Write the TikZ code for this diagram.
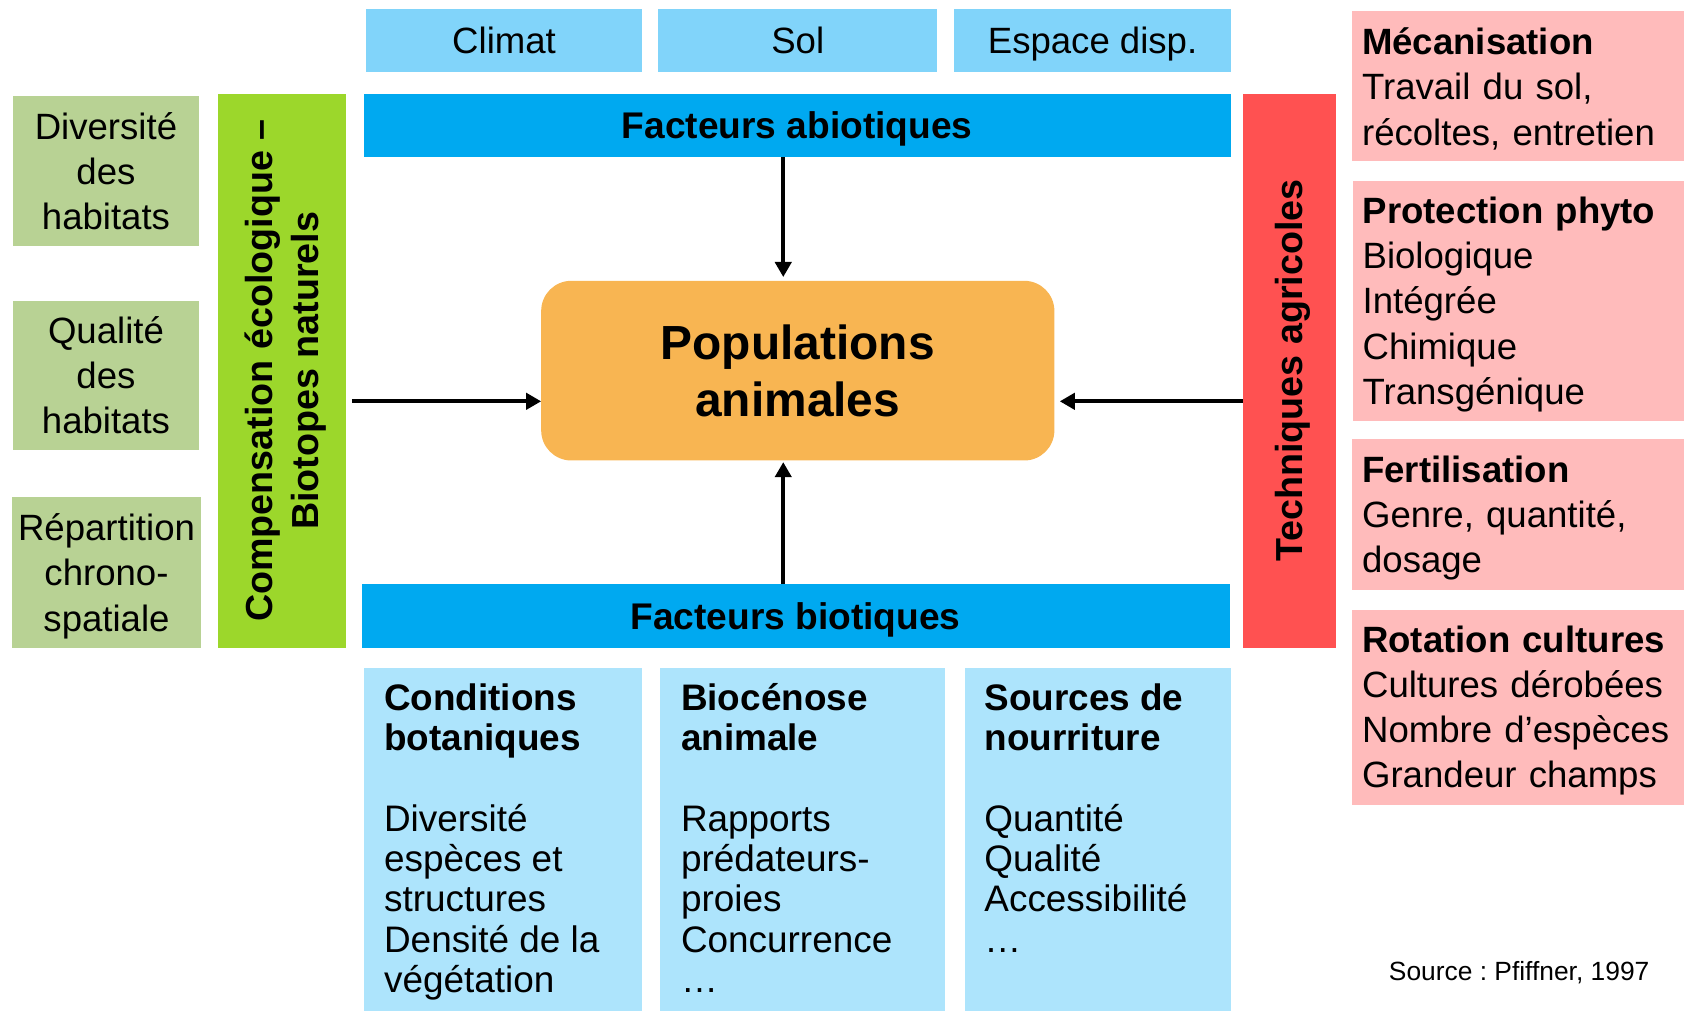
\documentclass[tikz,border=0pt]{standalone}
\usepackage{fontspec}
\setmainfont{Liberation Sans}
\usetikzlibrary{arrows.meta,calc}
\definecolor{topblue}{HTML}{81D4FA}
\definecolor{barblue}{HTML}{00A9F0}
\definecolor{lowblue}{HTML}{ADE4FC}
\definecolor{habgreen}{HTML}{B8D294}
\definecolor{limebar}{HTML}{9CD72B}
\definecolor{popor}{HTML}{F8B552}
\definecolor{techred}{HTML}{FF5151}
\definecolor{techpink}{HTML}{FFBBBB}
\frenchspacing
\begin{document}
\begin{tikzpicture}[x=1pt,y=-1pt,
  base/.style={inner sep=0pt, outer sep=0pt, font=\fontsize{34}{42}\selectfont},
  topbox/.style={base, fill=topblue, minimum height=59pt, text depth=0pt},
  barbox/.style={base, fill=barblue, minimum height=59pt, text depth=0pt, font=\fontsize{34.5}{42}\selectfont\bfseries},
  habbox/.style={base, fill=habgreen, align=center},
  vbartext/.style={base, rotate=90, align=center, font=\fontsize{35}{42}\selectfont\bfseries},
  pinkbox/.style={base, fill=techpink},
  pinktext/.style={base, inner xsep=9pt, text width=290pt, align=left},
  lowbox/.style={base, fill=lowblue},
  lowtext/.style={base, anchor=base west, font=\fontsize{34.3}{37.5}\selectfont},
  arr/.style={line width=3.8pt, -{Triangle[length=14pt,width=15pt]}}
]
\useasboundingbox (0,0) rectangle (1568,940);

% top abiotic factors
\node[topbox, minimum width=257pt] (climat) at (468.5,37.5) {Climat};
\node[topbox, minimum width=259pt] (sol) at (741.5,37.5) {Sol};
\node[topbox, minimum width=257pt] (espace) at (1015.5,37.5) {Espace disp.};

\node[barbox, minimum width=806pt] (abio) at (741,116.5) {Facteurs abiotiques};
\node[barbox, minimum width=807pt] (bio) at (739.5,572.5) {Facteurs biotiques};

% habitat boxes
\node[habbox, minimum width=173pt, minimum height=140pt] (hab1) at (98.5,159) {Diversité\\des\\habitats};
\node[habbox, minimum width=173pt, minimum height=138pt] (hab2) at (98.5,349) {Qualité\\des\\habitats};
\node[habbox, minimum width=176pt, minimum height=140pt] (hab3) at (99,532) {};
\node[base, align=center] (hab3t) at ($(hab3.center)+(0,3.5)$) {Répartition\\chrono-\\spatiale};

% vertical bars
\node[base, fill=limebar, minimum width=119pt, minimum height=515pt] (comp) at (262.5,344.5) {};
\node[vbartext] (compt) at ($(comp.center)+(3,0)$) {Compensation écologique –\\Biotopes naturels};
\node[base, fill=techred, minimum width=87pt, minimum height=515pt] (tech) at (1198.5,344.5) {};
\node[vbartext] (techt) at ($(tech.center)+(3.5,0)$) {Techniques agricoles};

% centre
\node[base, fill=popor, rounded corners=28pt, minimum width=477pt, minimum height=167pt, align=center,
      font=\fontsize{44.5}{53}\selectfont\bfseries] (pop) at (741.5,344.5) {Populations\\animales};

% pink technique boxes
\node[pinkbox, minimum width=308pt, minimum height=140pt] (meca) at (1411,80) {};
\node[pinktext] (mecat) at ($(meca.center)+(0,2.5)$) {{\bfseries Mécanisation}\\Travail du sol,\\récoltes, entretien};
\node[pinkbox, minimum width=307pt, minimum height=223pt] (prot) at (1411.5,279.5) {};
\node[pinktext] (prott) at ($(prot.center)+(0,3.5)$) {{\bfseries Protection phyto}\\Biologique\\Intégrée\\Chimique\\Transgénique};
\node[pinkbox, minimum width=308pt, minimum height=140pt] (fert) at (1411,478) {};
\node[pinktext] (fertt) at ($(fert.center)+(0,3.5)$) {{\bfseries Fertilisation}\\Genre, quantité,\\dosage};
\node[pinkbox, minimum width=308pt, minimum height=181pt] (rot) at (1411,657.5) {};
\node[pinktext] (rott) at ($(rot.center)+(0,3)$) {{\bfseries Rotation cultures}\\Cultures dérobées\\Nombre d’espèces\\Grandeur champs};

% lower biotic boxes
\node[lowbox, minimum width=259pt, minimum height=319pt] (cond) at (467.5,780.5) {};
\node[lowbox, minimum width=265pt, minimum height=319pt] (bioc) at (745.5,780.5) {};
\node[lowbox, minimum width=247pt, minimum height=319pt] (sources) at (1020.5,780.5) {};

\node[lowtext] (condt) at (357,660) {\parbox[t]{235pt}{\raggedright {\bfseries Conditions\\botaniques}\\ \mbox{}\\Diversité\\espèces et\\structures\\Densité de la\\végétation}};
\node[lowtext] (bioct) at (633,660) {\parbox[t]{240pt}{\raggedright {\bfseries Biocénose\\animale}\\ \mbox{}\\Rapports\\prédateurs-\\proies\\Concurrence\\…}};
\node[lowtext] (sourcest) at (915,660) {\parbox[t]{225pt}{\raggedright {\bfseries Sources de\\nourriture}\\ \mbox{}\\Quantité\\Qualité\\Accessibilité\\…}};

\node[base, anchor=base west, font=\fontsize{24.5}{28}\selectfont] (src) at (1291,911) {Source : Pfiffner, 1997};

% arrows
\draw[arr, shorten >=3.5pt] ($(abio.south)+(-13,0)$) -- ($(pop.north)+(-13.5,0)$);
\draw[arr, shorten >=1.5pt] ($(bio.north)+(-11.5,0)$) -- ($(pop.south)+(-13.5,0)$);
\draw[arr] ($(comp.east)+(5,28.5)$) -- ($(pop.west)+(0,28.5)$);
\draw[arr] ($(tech.west)+(0,28.5)$) -- ($(pop.east)+(5,28.5)$);
\end{tikzpicture}
\end{document}
